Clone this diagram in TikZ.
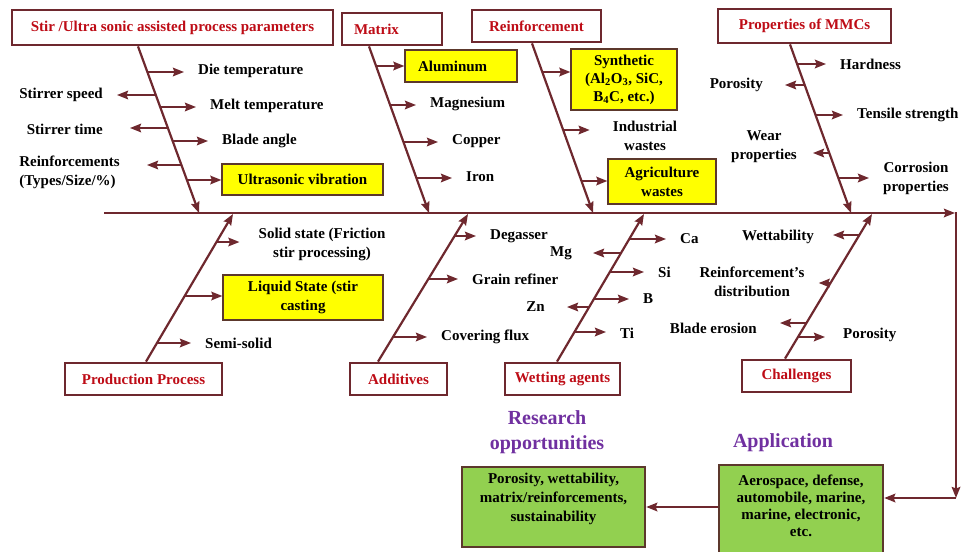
\documentclass[tikz,border=0pt]{standalone}
\usepackage{fontspec}
\setmainfont{Liberation Serif}
\usetikzlibrary{arrows.meta}
\newcommand\lblfont{\fontsize{15}{19}\selectfont\bfseries}
\definecolor{bone_red}{RGB}{110,40,46}
\definecolor{title_red}{RGB}{190,12,22}
\definecolor{box_yellow}{RGB}{255,255,0}
\definecolor{box_green}{RGB}{146,208,80}
\definecolor{edge_brown}{RGB}{92,56,44}
\definecolor{text_purple}{RGB}{112,48,160}

\begin{document}
\begin{tikzpicture}[x=1pt,y=-1pt,>={Stealth[length=11pt,width=8.5pt,inset=1.5pt]}]
    \tikzstyle{catbox}=[draw=bone_red, line width=2.8pt, fill=white, text=title_red, font=\lblfont, minimum height=32pt, inner sep=0pt]
    \tikzstyle{ybox}=[draw=edge_brown, line width=1.2pt, fill=box_yellow, font=\lblfont, align=center, inner sep=0pt]
    \tikzstyle{gbox}=[draw=edge_brown, line width=2.4pt, fill=box_green, align=center, inner sep=0pt]
    \tikzstyle{lbl}=[font=\lblfont, align=center, inner sep=0pt]
    \tikzstyle{purp}=[font=\fontsize{20}{25}\selectfont\bfseries, text=text_purple, align=center, inner sep=0pt]
    \tikzstyle{bone}=[->, draw=bone_red, line width=2.2pt]
    \tikzstyle{twig}=[->, draw=bone_red, line width=2.2pt, shorten >=14pt]
    \useasboundingbox (0,0) rectangle (965,551);

    \node[catbox, minimum width=321pt, minimum height=35pt] (stir) at (172.5,27.5) {Stir /Ultra sonic assisted process parameters};
    \node[catbox, minimum width=100pt, text width=76pt, align=left] (matrix) at (392,29) {Matrix};
    \node[catbox, minimum width=129pt] (reinf) at (536.5,26) {Reinforcement};
    \node[catbox, minimum width=173pt, minimum height=34pt] (props) at (804.5,26) {Properties of MMCs};
    \node[catbox, minimum width=157pt] (prod) at (143.5,379) {Production Process};
    \node[catbox, minimum width=97pt] (addit) at (398.5,379) {Additives};
    \node[catbox, minimum width=115pt] (wetag) at (562.5,379) {Wetting agents};
    \node[catbox, minimum width=109pt] (chall) at (796.5,376) {Challenges};

    \node[ybox, minimum width=161pt, minimum height=31pt] (ultra) at (302.5,179.5) {Ultrasonic vibration};
    \node[ybox, minimum width=112pt, minimum height=32pt, text width=86pt, align=left] (alu) at (461,66) {Aluminum};
    \node[ybox, minimum width=106pt, minimum height=61pt, font=\fontsize{15}{18}\selectfont\bfseries] (synth) at (624,79.5) {Synthetic\\(Al\textsubscript{2}O\textsubscript{3}, SiC,\\B\textsubscript{4}C, etc.)};
    \node[ybox, minimum width=108pt, minimum height=45pt] (agri) at (662,181.5) {Agriculture\\wastes};
    \node[ybox, minimum width=160pt, minimum height=45pt] (liquid) at (303,297.5) {Liquid State (stir\\casting};

    \node[lbl, anchor=west] (die) at (198,71) {Die temperature};
    \node[lbl, anchor=east] (speed) at (103,95) {Stirrer speed};
    \node[lbl, anchor=west] (melt) at (210,106) {Melt temperature};
    \node[lbl, anchor=east] (stime) at (103,129) {Stirrer time};
    \node[lbl, anchor=west] (blade) at (222,141) {Blade angle};
    \node[lbl, anchor=east, align=left] (rtype) at (120,172.5) {Reinforcements\\(Types/Size/\%)};
    \node[lbl, anchor=west] (magn) at (430,104) {Magnesium};
    \node[lbl, anchor=west] (copper) at (452,141) {Copper};
    \node[lbl, anchor=west] (iron) at (466,177) {Iron};
    \node[lbl] (indus) at (645,135.5) {Industrial\\wastes};
    \node[lbl, anchor=west] (hard) at (840,64) {Hardness};
    \node[lbl, anchor=east] (poros) at (763,85) {Porosity};
    \node[lbl, anchor=west] (tens) at (857,115) {Tensile strength};
    \node[lbl] (wear) at (764,146.5) {Wear\\properties};
    \node[lbl] (corr) at (916,178.5) {Corrosion\\properties};

    \node[lbl] (solid) at (322,244.5) {Solid state (Friction\\stir processing)};
    \node[lbl, anchor=west] (semi) at (205,343) {Semi-solid};
    \node[lbl, anchor=west] (degas) at (490,236) {Degasser};
    \node[lbl, anchor=west] (grain) at (472,279) {Grain refiner};
    \node[lbl, anchor=west] (cover) at (441,337) {Covering flux};
    \node[lbl, anchor=west] (ca) at (680,239) {Ca};
    \node[lbl, anchor=east] (mg) at (572,253) {Mg};
    \node[lbl, anchor=west] (si) at (658,272) {Si};
    \node[lbl, anchor=west] (bor) at (643,299) {B};
    \node[lbl, anchor=east] (zn) at (545,307) {Zn};
    \node[lbl, anchor=west] (ti) at (620,333) {Ti};
    \node[lbl, anchor=east] (wetta) at (814,237) {Wettability};
    \node[lbl] (distr) at (752,281.5) {Reinforcement's\\distribution};
    \node[lbl, anchor=east] (erosion) at (757,328) {Blade erosion};
    \node[lbl, anchor=west] (porob) at (843,335) {Porosity};

    \node[purp] (resq) at (547,432) {Research\\opportunities};
    \node[purp] (appq) at (783,443) {Application};
    \node[gbox, minimum width=183pt, minimum height=80pt, font=\lblfont, text depth=19pt] (research) at (553.5,507) {Porosity, wettability,\\matrix/reinforcements,\\sustainability};
    \node[gbox, minimum width=164pt, minimum height=90pt, font=\fontsize{15}{17}\selectfont\bfseries, text depth=9pt] (app) at (801,510) {Aerospace, defense,\\automobile, marine,\\marine, electronic,\\etc.};

    \coordinate (tail) at (104,213);
    \coordinate (mouth) at (955,213);
    \coordinate (drop) at (956,212);
    \coordinate (turn) at (956,498);
    \coordinate (s1) at (199,213);
    \coordinate (s2) at (429,213);
    \coordinate (s3) at (593,213);
    \coordinate (s4) at (851,213);
    \coordinate (s5) at (233,214);
    \coordinate (s6) at (468,214);
    \coordinate (s7) at (644,214);
    \coordinate (s8) at (872,214);

    \draw[bone] (tail) -- (mouth);
    \draw[bone] (drop) -- (turn);
    \draw[bone] (turn) -- (turn -| app.east);
    \draw[bone] (app.west |- research.east) -- (research.east);

    \draw[bone] (138,0 |- stir.south) -- (s1);
    \draw[bone] (369,0 |- matrix.south) -- (s2);
    \draw[bone] (532,0 |- reinf.south) -- (s3);
    \draw[bone] (790,0 |- props.south) -- (s4);
    \draw[bone] (146,0 |- prod.north) -- (s5);
    \draw[bone] (378,0 |- addit.north) -- (s6);
    \draw[bone] (557,0 |- wetag.north) -- (s7);
    \draw[bone] (785,0 |- chall.north) -- (s8);

    \coordinate (c_die) at (147.8,72);
    \coordinate (c_speed) at (156.2,95);
    \coordinate (c_melt) at (160.5,107);
    \coordinate (c_time) at (168.1,128);
    \coordinate (c_blade) at (172.8,141);
    \coordinate (c_rtype) at (181.6,165);
    \coordinate (c_ultra) at (187.0,180);
    \coordinate (c_alu) at (376.5,66);
    \coordinate (c_magn) at (390.4,105);
    \coordinate (c_copper) at (403.6,142);
    \coordinate (c_iron) at (416.5,178);
    \coordinate (c_synth) at (542.7,72);
    \coordinate (c_indus) at (563.4,130);
    \coordinate (c_agri) at (581.6,181);
    \coordinate (c_hard) at (797.5,64);
    \coordinate (c_poros) at (805.1,85);
    \coordinate (c_tens) at (815.8,115);
    \coordinate (c_wear) at (829.5,153);
    \coordinate (c_corr) at (838.5,178);
    \coordinate (c_solid) at (216.7,242);
    \coordinate (c_liquid) at (185.1,296);
    \coordinate (c_semi) at (157.7,343);
    \coordinate (c_degas) at (454.7,236);
    \coordinate (c_grain) at (428.7,279);
    \coordinate (c_cover) at (393.7,337);
    \coordinate (c_ca) at (629.4,239);
    \coordinate (c_mg) at (621.2,253);
    \coordinate (c_si) at (610.1,272);
    \coordinate (c_bor) at (594.4,299);
    \coordinate (c_zn) at (589.7,307);
    \coordinate (c_ti) at (575.1,332);
    \coordinate (c_wetta) at (859.5,235);
    \coordinate (c_distr) at (830.9,283);
    \coordinate (c_erosion) at (807.1,323);
    \coordinate (c_porob) at (798.7,337);

    \draw[twig] (c_die) -- (c_die -| die.west);
    \draw[twig] (c_speed) -- (c_speed -| speed.east);
    \draw[twig] (c_melt) -- (c_melt -| melt.west);
    \draw[twig, shorten >=27pt] (c_time) -- (c_time -| stime.east);
    \draw[twig] (c_blade) -- (c_blade -| blade.west);
    \draw[twig, shorten >=27pt] (c_rtype) -- (c_rtype -| rtype.east);
    \draw[twig, shorten >=0pt] (c_ultra) -- (c_ultra -| ultra.west);
    \draw[twig, shorten >=0pt] (c_alu) -- (c_alu -| alu.west);
    \draw[twig] (c_magn) -- (c_magn -| magn.west);
    \draw[twig] (c_copper) -- (c_copper -| copper.west);
    \draw[twig] (c_iron) -- (c_iron -| iron.west);
    \draw[twig, shorten >=0pt] (c_synth) -- (c_synth -| synth.west);
    \draw[twig, shorten >=23pt] (c_indus) -- (c_indus -| indus.west);
    \draw[twig, shorten >=0pt] (c_agri) -- (c_agri -| agri.west);
    \draw[twig] (c_hard) -- (c_hard -| hard.west);
    \draw[twig, shorten >=22pt] (c_poros) -- (c_poros -| poros.east);
    \draw[twig] (c_tens) -- (c_tens -| tens.west);
    \draw[twig, shorten >=16pt] (c_wear) -- (c_wear -| wear.east);
    \draw[twig] (c_corr) -- (c_corr -| corr.west);
    \draw[twig, shorten >=19pt] (c_solid) -- (c_solid -| solid.west);
    \draw[twig, shorten >=0pt] (c_liquid) -- (c_liquid -| liquid.west);
    \draw[twig] (c_semi) -- (c_semi -| semi.west);
    \draw[twig] (c_degas) -- (c_degas -| degas.west);
    \draw[twig] (c_grain) -- (c_grain -| grain.west);
    \draw[twig] (c_cover) -- (c_cover -| cover.west);
    \draw[twig] (c_ca) -- (c_ca -| ca.west);
    \draw[twig, shorten >=21pt] (c_mg) -- (c_mg -| mg.east);
    \draw[twig] (c_si) -- (c_si -| si.west);
    \draw[twig] (c_bor) -- (c_bor -| bor.west);
    \draw[twig, shorten >=22pt] (c_zn) -- (c_zn -| zn.east);
    \draw[twig] (c_ti) -- (c_ti -| ti.west);
    \draw[twig, shorten >=19pt] (c_wetta) -- (c_wetta -| wetta.east);
    \draw[twig] (c_distr) -- (c_distr -| distr.east);
    \draw[twig, shorten >=23pt] (c_erosion) -- (c_erosion -| erosion.east);
    \draw[twig, shorten >=18pt] (c_porob) -- (c_porob -| porob.west);
\end{tikzpicture}
\end{document}
